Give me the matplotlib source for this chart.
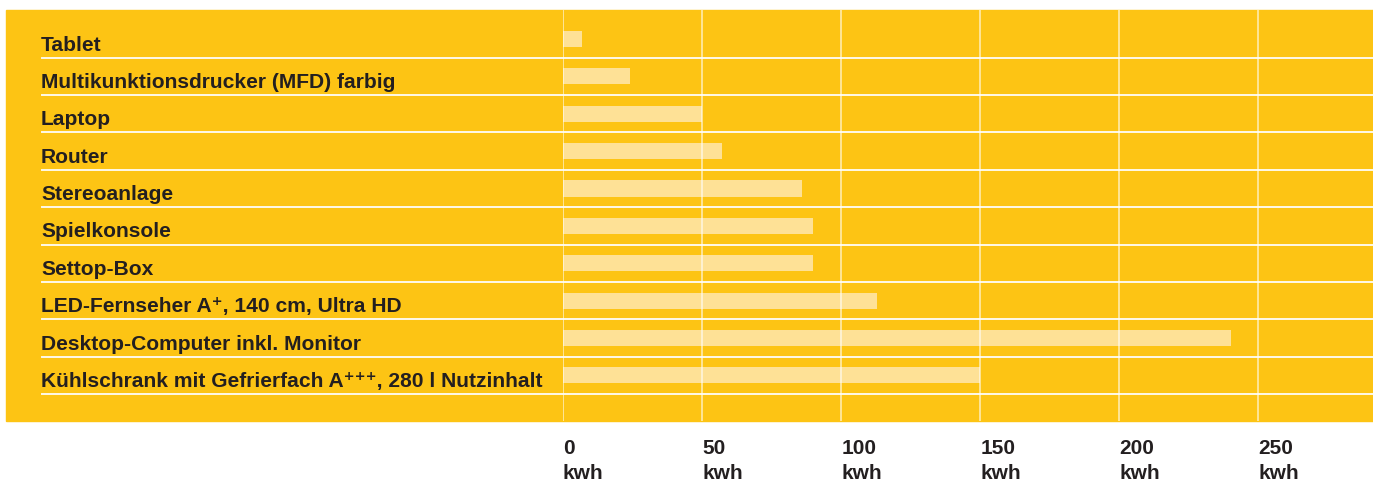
import matplotlib.pyplot as plt
from matplotlib.patches import Rectangle
from matplotlib.transforms import blended_transform_factory

# Daten
geraete = [
    'Tablet',
    'Multikunktionsdrucker (MFD) farbig',
    'Laptop',
    'Router',
    'Stereoanlage',
    'Spielkonsole',
    'Settop-Box',
    'LED-Fernseher A⁺, 140 cm, Ultra HD',
    'Desktop-Computer inkl. Monitor',
    'Kühlschrank mit Gefrierfach A⁺⁺⁺, 280 l Nutzinhalt',
]
verbrauch = [7, 24, 50, 57, 86, 90, 90, 113, 240, 150]
ticks = [0, 50, 100, 150, 200, 250]
tick_labels = [f'{t}\nkwh' for t in ticks]

GELB = '#fdc414'
BALKEN = '#fee196'
TEXT = '#231f20'

plt.rcParams['font.family'] = ['Liberation Sans', 'DejaVu Sans']

W, H = 1373, 487
fig = plt.figure(figsize=(W / 100, H / 100), dpi=100)

# gelber Hintergrund
fig.patches.append(Rectangle((6 / W, (H - 421) / H), 1 - 6 / W, 411 / H,
                             transform=fig.transFigure, color=GELB, zorder=-5))

ax = fig.add_axes([563 / W, (H - 421) / H, 1 - 563 / W, 411 / H])
ax.set_zorder(1)
ax.set_facecolor('none')
for s in ax.spines.values():
    s.set_visible(False)
ax.set_xlim(0, 291.2)
ax.set_ylim(10.22, -0.776)
ax.set_xticks([])
ax.set_yticks([])

ypos = list(range(len(geraete)))
ax.barh(ypos, verbrauch, height=0.43, color=BALKEN, zorder=1)

for t in ticks:
    ax.axvline(t, color='white', alpha=0.6, lw=1.3, zorder=2)

trans = blended_transform_factory(fig.transFigure, ax.transData)
for i, name in enumerate(geraete):
    ax.plot([41.5 / W, 1], [i + 0.5, i + 0.5], color='white', alpha=0.9,
            lw=1.4, transform=trans, clip_on=False, zorder=3)
    ax.text(41 / W, i + 0.31, name, transform=trans, ha='left', va='baseline',
            fontsize=15.1, fontweight='bold', color=TEXT)

for t, lab in zip(ticks, tick_labels):
    ax.text(t, -0.045, lab, transform=blended_transform_factory(ax.transData, ax.transAxes),
            ha='left', va='top', fontsize=15, fontweight='bold', color=TEXT,
            linespacing=1.35)

fig.savefig('out.png', dpi=100)
